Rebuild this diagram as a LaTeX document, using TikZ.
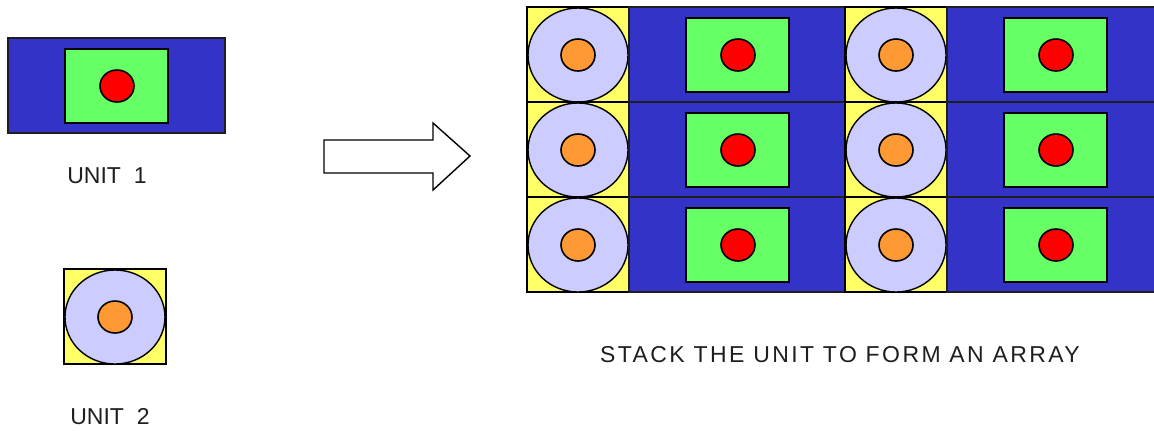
\documentclass[tikz,border=0pt]{standalone}
\usepackage{fontspec}
\setmainfont{Liberation Sans}
\usepackage{tikz}
\usetikzlibrary{positioning}
\definecolor{cellBlue}{RGB}{51,51,200}
\definecolor{cellGreen}{RGB}{102,255,102}
\definecolor{cellRed}{RGB}{255,0,0}
\definecolor{cellYellow}{RGB}{255,255,102}
\definecolor{cellLavender}{RGB}{204,204,255}
\definecolor{cellOrange}{RGB}{255,153,51}
\definecolor{inkgray}{RGB}{30,30,30}

% unit 1: blue block with green pad and red core, top-left corner at (#1,#2)
\newcommand{\unitOne}[2]{%
  \draw[bluebox] (#1,#2) rectangle ++(217,95);
  \draw[greenbox] (#1,#2) ++(57,11) rectangle ++(103,74);
  \draw[redcore] (#1,#2) ++(109,48) ellipse (17 and 16);
}
% unit 2: yellow square with lavender ring and orange core
\newcommand{\unitTwo}[2]{%
  \draw[yellowbox] (#1,#2) rectangle ++(102,95);
  \draw[lavring] (#1,#2) ++(51,48) ellipse (50 and 47);
  \draw[orangecore] (#1,#2) ++(51,48) ellipse (17 and 16);
}

\begin{document}
\begin{tikzpicture}[x=0.5pt,y=-0.5pt,
  bluebox/.style={fill=cellBlue, draw=inkgray, line width=0.6pt},
  greenbox/.style={fill=cellGreen, draw=black, line width=0.8pt},
  redcore/.style={fill=cellRed, draw=black, line width=0.8pt},
  yellowbox/.style={fill=cellYellow, draw=black, line width=0.8pt},
  lavring/.style={fill=cellLavender, draw=black, line width=0.7pt},
  orangecore/.style={fill=cellOrange, draw=black, line width=0.8pt},
  caption/.style={text=inkgray, font=\fontsize{11.5}{14}\selectfont, inner sep=0pt}]
\useasboundingbox (0,0) rectangle (1154,430);
\clip (0,0) rectangle (1154,430);

% the two units
\unitOne{8}{38}
\node[caption] (unitonelabel) at (107,176) {UNIT\ \ 1};
\unitTwo{64}{269}
\node[caption] (unittwolabel) at (110,417) {UNIT\ \ 2};

% block arrow
\draw[line width=0.7pt, fill=white] (324,140) -- (433,140) -- (433,123) -- (470,156)
  -- (433,190) -- (433,173) -- (324,173) -- cycle;

% stacked array
\foreach \r in {0,1,2} {
  \pgfmathsetmacro{\ytop}{7+95*\r}
  \unitTwo{527}{\ytop}
  \unitOne{629}{\ytop}
  \unitTwo{845}{\ytop}
  \unitOne{947}{\ytop}
}
\node[caption] (stacklabel) at (840,355) {\addfontfeature{LetterSpace=10.5}STACK THE UNIT TO FORM AN ARRAY};
\end{tikzpicture}
\end{document}
